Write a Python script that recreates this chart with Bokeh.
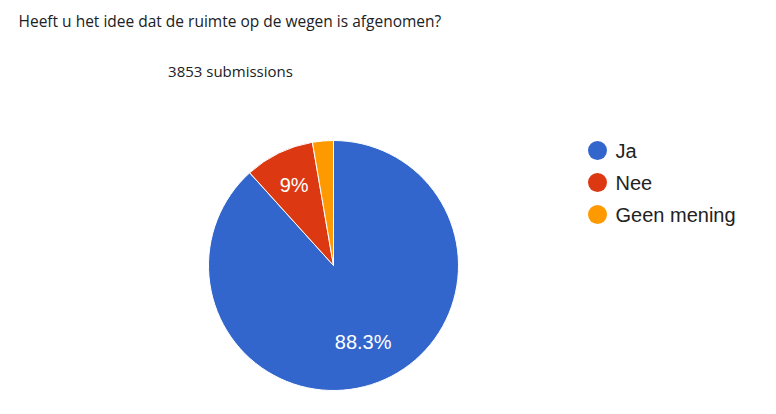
import math
from bokeh.plotting import figure
from bokeh.models import Range1d, ColumnDataSource
from bokeh.core.properties import value
from bokeh.embed import file_html
from bokeh.resources import INLINE

title_text = "Heeft u het idee dat de ruimte op de wegen is afgenomen?"
subtitle_text = "3853 submissions"
categories = ["Ja", "Nee", "Geen mening"]
shares = [88.3, 9.0, 2.7]
slice_labels = ["88.3%", "9%", ""]
colors = ["#3366cc", "#dc3912", "#ff9900"]

W, H = 760, 398
cx, cy, r = 333, H - 265, 125
label_frac = 0.66

p = figure(width=W, height=H, x_range=Range1d(0, W), y_range=Range1d(0, H),
           x_axis_type=None, y_axis_type=None, output_backend="svg",
           toolbar_location=None, min_border=0, outline_line_color=None)
p.grid.visible = False

total = sum(shares)
starts, ends, lx, ly = [], [], [], []
cum = 0.0
for s in shares:
    c0 = cum / total
    c1 = (cum + s) / total
    starts.append(math.pi / 2 - 2 * math.pi * c1)
    ends.append(math.pi / 2 - 2 * math.pi * c0)
    mid = (c0 + c1) / 2
    a = math.pi / 2 - 2 * math.pi * mid
    f = label_frac if s > 20 else 0.72
    lx.append(cx + f * r * math.cos(a))
    ly.append(cy + f * r * math.sin(a))
    cum += s

src = ColumnDataSource(dict(start=starts, end=ends, color=colors,
                            lx=lx, ly=ly, lab=slice_labels))
p.wedge(x=cx, y=cy, radius=r, start_angle="start", end_angle="end",
        fill_color="color", line_color="white", line_width=1, source=src)
p.text(x="lx", y="ly", text="lab", source=src, text_color="white",
       text_font=value("Liberation Sans"), text_font_size="20px",
       text_align="center", text_baseline="middle")

# legend
leg_y = [H - 150 - 32 * i for i in range(len(categories))]
leg_src = ColumnDataSource(dict(y=leg_y, name=categories, color=colors))
p.scatter(x=597, y="y", size=19, marker="circle", fill_color="color",
          line_color=None, source=leg_src)
p.text(x=615, y="y", text="name", source=leg_src, text_color="#222222",
       text_font=value("Liberation Sans"), text_font_size="20px",
       text_align="left", text_baseline="middle")

# title and subtitle
p.text(x=[18], y=[H - 20], text=[title_text], text_color="#202124",
       text_font=value("Open Sans"), text_font_size="15.5px",
       text_align="left", text_baseline="middle")
p.text(x=[230], y=[H - 70], text=[subtitle_text], text_color="#202124",
       text_font=value("Open Sans"), text_font_size="15px",
       text_align="center", text_baseline="middle")

open("out.html", "w").write(file_html(p, INLINE))
